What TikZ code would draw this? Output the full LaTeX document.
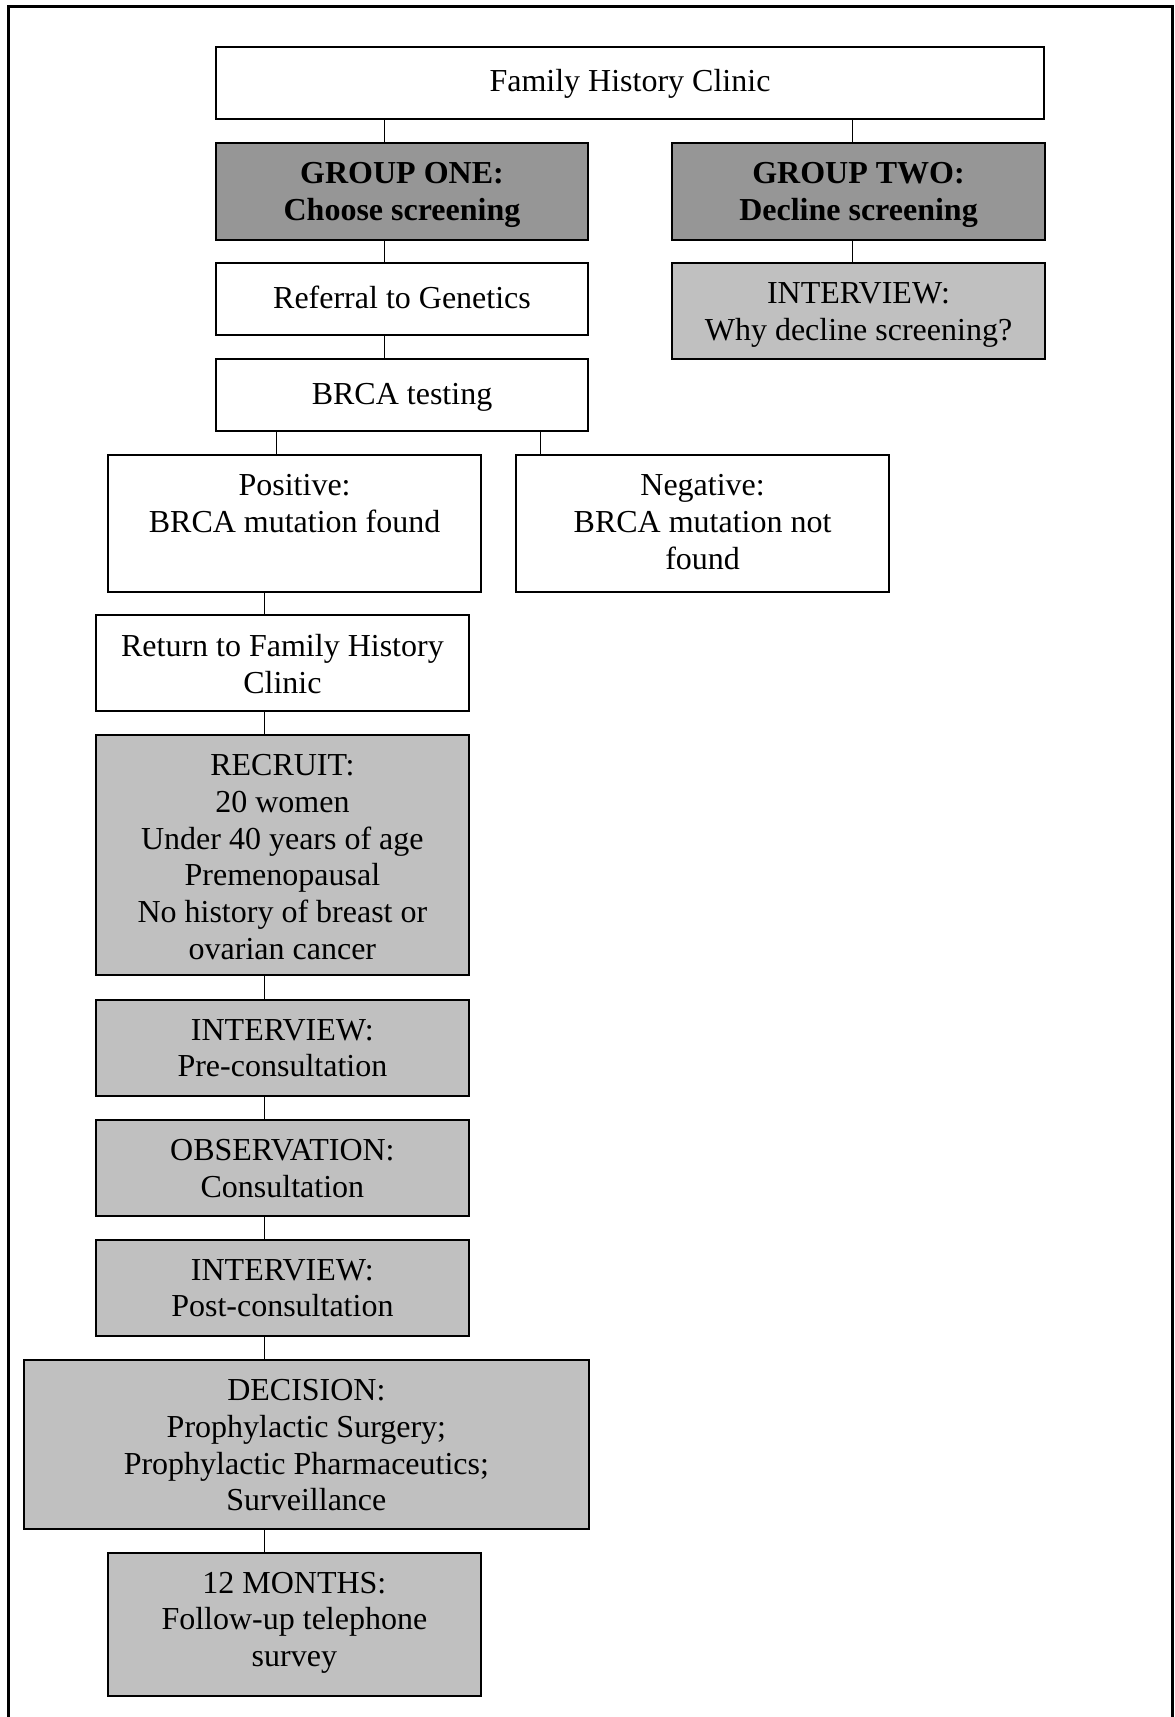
\documentclass[tikz,border=0pt]{standalone}
\usepackage{fontspec}
\setmainfont{Liberation Serif}
\usetikzlibrary{calc}

\definecolor{darkfill}{RGB}{150,150,150}
\definecolor{lightfill}{RGB}{192,192,192}

\begin{document}
\begin{tikzpicture}[x=0.375pt,y=-0.375pt,
	box/.style={draw,line width=0.75pt,inner sep=0pt,minimum width=139.8pt},
	onebox/.style={box,minimum height=27.1pt},
	twobox/.style={box,minimum height=36.1pt},
	dark/.style={fill=darkfill},
	light/.style={fill=lightfill},
	txt/.style={anchor=north,inner sep=0pt,align=center,font=\fontsize{12pt}{13.8pt}\selectfont,execute at begin node=\strut},
	link/.style={line width=0.4pt}]
\useasboundingbox (0,0) rectangle (1174,1717);
\draw[line width=0.85pt] (8.5,1717) -- (8.5,6.5) -- (1172.5,6.5) -- (1172.5,1717);
% boxes
\node[onebox,minimum width=310.8pt] (fhc) at (630,83) {};
\node[twobox,dark] (one) at (402,191.4) {};
\node[twobox,dark] (two) at (858.5,191.4) {};
\node[onebox] (gen) at (402,299.2) {};
\node[twobox,light] (why) at (858.5,311.3) {};
\node[onebox] (brca) at (402,395.2) {};
\node[box,minimum height=51.4pt] (pos) at (294.6,523.5) {};
\node[box,minimum height=51.4pt] (neg) at (702.6,523.5) {};
\node[twobox] (ret) at (282.4,662.9) {};
\node[box,light,minimum height=90pt] (rec) at (282.4,855) {};
\node[twobox,light] (pre) at (282.4,1048) {};
\node[twobox,light] (obs) at (282.4,1167.9) {};
\node[twobox,light] (post) at (282.4,1288) {};
\node[box,light,minimum width=211.8pt,minimum height=63.2pt] (dec) at (306.4,1444.3) {};
\node[box,light,minimum height=53.9pt] (fol) at (294.4,1624.5) {};
% texts
\node[txt] (fhc-t) at ([yshift=-7.4pt]fhc.north) {Family History Clinic};
\node[txt,font=\fontsize{12pt}{13.8pt}\selectfont\bfseries] (one-t) at ([yshift=-7.4pt]one.north) {GROUP ONE:\\Choose screening};
\node[txt,font=\fontsize{12pt}{13.8pt}\selectfont\bfseries] (two-t) at ([yshift=-7.4pt]two.north) {GROUP TWO:\\Decline screening};
\node[txt] (gen-t) at ([yshift=-7.4pt]gen.north) {Referral to Genetics};
\node[txt] (why-t) at ([yshift=-7.4pt]why.north) {INTERVIEW:\\Why decline screening?};
\node[txt] (brca-t) at ([yshift=-7.4pt]brca.north) {BRCA testing};
\node[txt] (pos-t) at ([yshift=-7.4pt]pos.north) {Positive:\\BRCA mutation found};
\node[txt] (neg-t) at ([yshift=-7.4pt]neg.north) {Negative:\\BRCA mutation not\\found};
\node[txt] (ret-t) at ([yshift=-7.4pt]ret.north) {Return to Family History\\Clinic};
\node[txt] (rec-t) at ([yshift=-7.4pt]rec.north) {RECRUIT:\\20 women\\Under 40 years of age\\Premenopausal\\No history of breast or\\ovarian cancer};
\node[txt] (pre-t) at ([yshift=-7.4pt]pre.north) {INTERVIEW:\\Pre-consultation};
\node[txt] (obs-t) at ([yshift=-7.4pt]obs.north) {OBSERVATION:\\Consultation};
\node[txt] (post-t) at ([yshift=-7.4pt]post.north) {INTERVIEW:\\Post-consultation};
\node[txt] (dec-t) at ([yshift=-7.4pt]dec.north) {DECISION:\\Prophylactic Surgery;\\Prophylactic Pharmaceutics;\\Surveillance};
\node[txt] (fol-t) at ([yshift=-7.4pt]fol.north) {12 MONTHS:\\Follow-up telephone\\survey};
% connector lanes
\coordinate (laneA) at (384.8,0);
\coordinate (laneB) at (852.8,0);
\coordinate (laneC) at (276.3,0);
\coordinate (laneD) at (540.6,0);
\coordinate (spine) at (264.5,0);
\draw[link] (fhc.south -| laneA) -- (one.north -| laneA);
\draw[link] (fhc.south -| laneB) -- (two.north -| laneB);
\draw[link] (one.south -| laneA) -- (gen.north -| laneA);
\draw[link] (gen.south -| laneA) -- (brca.north -| laneA);
\draw[link] (two.south -| laneB) -- (why.north -| laneB);
\draw[link] (brca.south -| laneC) -- (pos.north -| laneC);
\draw[link] (brca.south -| laneD) -- (neg.north -| laneD);
\draw[link] (pos.south -| spine) -- (ret.north -| spine);
\draw[link] (ret.south -| spine) -- (rec.north -| spine);
\draw[link] (rec.south -| spine) -- (pre.north -| spine);
\draw[link] (pre.south -| spine) -- (obs.north -| spine);
\draw[link] (obs.south -| spine) -- (post.north -| spine);
\draw[link] (post.south -| spine) -- (dec.north -| spine);
\draw[link] (dec.south -| spine) -- (fol.north -| spine);
\end{tikzpicture}
\end{document}
